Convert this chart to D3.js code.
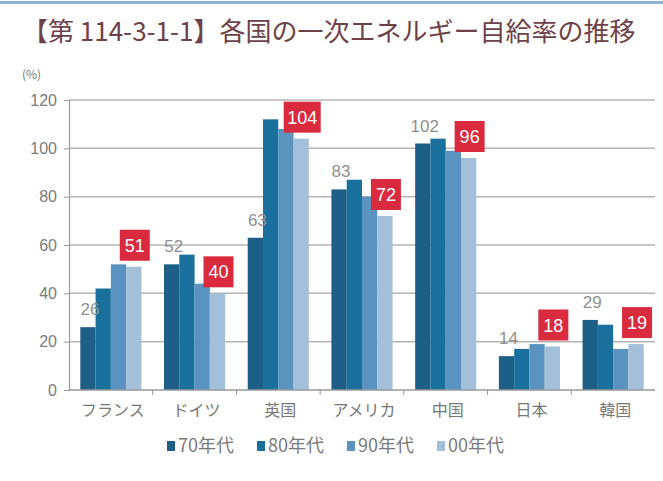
<!DOCTYPE html>
<html>
<head>
<meta charset="utf-8">
<script src="https://cdn.jsdelivr.net/npm/d3@7/dist/d3.min.js"></script>
<style>
  html, body { margin: 0; padding: 0; background: #fff; }
  svg { display: block; font-family: "Noto Sans CJK JP", "Noto Sans", sans-serif; }
</style>
</head>
<body>
<svg id="chart" width="663" height="481"></svg>
<script>
// 各国の一次エネルギー自給率（%）
const countries = ["フランス", "ドイツ", "英国", "アメリカ", "中国", "日本", "韓国"];
const decades = ["70年代", "80年代", "90年代", "00年代"];
const values70s = [26, 52, 63, 83, 102, 14, 29];
const values80s = [42, 56, 112, 87, 104, 17, 27];
const values90s = [52, 44, 108, 80, 99, 19, 17];
const values00s = [51, 40, 104, 72, 96, 18, 19];
const yTicks = [0, 20, 40, 60, 80, 100, 120];

const colors = ["#1d5f86", "#1a709d", "#5a93bf", "#a3bfd9"];
const seriesValues = [values70s, values80s, values90s, values00s];

const svg = d3.select("#chart");
const margin = { left: 69, right: 8, top: 100, bottom: 91 };
const W = 663, H = 481;
const plotRight = 655;

// top rule
svg.append("rect").attr("x", 0).attr("y", 1).attr("width", W).attr("height", 3)
  .attr("fill", "#8fb3d6");

// title
svg.append("text")
  .attr("x", 22).attr("y", 41)
  .attr("font-size", 26)
  .attr("fill", "#6e4148")
  .text("【第 114-3-1-1】各国の一次エネルギー自給率の推移");

svg.append("text")
  .attr("x", 22).attr("y", 79)
  .attr("font-size", 12)
  .attr("fill", "#777")
  .text("(%)");

const x0 = d3.scaleBand().domain(countries)
  .range([margin.left, plotRight]).paddingInner(0.27).paddingOuter(0.135);
const x1 = d3.scaleBand().domain(decades).range([0, x0.bandwidth()]);
const y = d3.scaleLinear().domain([0, 120]).range([390, 100]);

// gridlines
svg.append("g").selectAll("line").data(yTicks.filter(d => d > 0)).join("line")
  .attr("x1", margin.left).attr("x2", plotRight)
  .attr("y1", d => y(d)).attr("y2", d => y(d))
  .attr("stroke", "#b4b4b4").attr("stroke-width", 1.5);

// y axis
const yAxis = svg.append("g")
  .attr("transform", `translate(${margin.left},0)`)
  .call(d3.axisLeft(y).tickValues(yTicks).tickSize(5).tickPadding(7));
yAxis.select(".domain").attr("stroke", "#999").attr("stroke-width", 1.2);
yAxis.selectAll(".tick line").attr("stroke", "#999");
yAxis.selectAll("text").attr("font-size", 16).attr("fill", "#7a7a7a")
  .attr("font-family", "Liberation Sans, Arial, sans-serif");

// bars
const groups = svg.append("g").selectAll("g").data(countries).join("g")
  .attr("transform", d => `translate(${x0(d)},0)`);
groups.selectAll("rect")
  .data((c, i) => decades.map((dec, k) => ({ dec, k, v: seriesValues[k][i] })))
  .join("rect")
  .attr("x", d => x1(d.dec))
  .attr("width", x1.bandwidth())
  .attr("y", d => y(d.v))
  .attr("height", d => y(0) - y(d.v))
  .attr("fill", d => colors[d.k]);

// x axis baseline and category ticks
const step = x0.step();
const xAxis = svg.append("g").attr("transform", `translate(0,${y(0)})`);
xAxis.append("line").attr("x1", margin.left).attr("x2", plotRight)
  .attr("stroke", "#999").attr("stroke-width", 1.5);
xAxis.selectAll("line.tk").data(d3.range(1, countries.length)).join("line")
  .attr("class", "tk")
  .attr("x1", i => margin.left + i * step).attr("x2", i => margin.left + i * step)
  .attr("y1", 0).attr("y2", 5).attr("stroke", "#999");
xAxis.selectAll("text").data(countries).join("text")
  .attr("x", d => x0(d) + x0.bandwidth() / 2 + 2)
  .attr("y", 26)
  .attr("text-anchor", "middle")
  .attr("font-size", 16)
  .attr("fill", "#777")
  .text(d => d);

// 70年代 value labels
svg.append("g").selectAll("text").data(countries).join("text")
  .attr("x", (c) => x0(c) + x1("70年代") + x1.bandwidth() / 2 + 2)
  .attr("y", (c, i) => y(values70s[i]) - 12)
  .attr("text-anchor", "middle")
  .attr("font-size", 17)
  .attr("font-family", "Liberation Sans, Arial, sans-serif")
  .attr("fill", "#8f8f8f")
  .text((c, i) => values70s[i]);

// 00年代 value labels in red boxes
const boxes = svg.append("g").selectAll("g").data(countries).join("g")
  .attr("transform", (c, i) => {
    const cx = x0(c) + x1("00年代") + x1.bandwidth() / 2 + 1;
    const top = y(values00s[i]) - 6 - 31;
    return `translate(${cx},${top})`;
  });
boxes.append("rect")
  .attr("x", (c, i) => String(values00s[i]).length > 2 ? -18.5 : -15)
  .attr("width", (c, i) => String(values00s[i]).length > 2 ? 37 : 30)
  .attr("height", 31)
  .attr("fill", "#d92a3e");
boxes.append("text")
  .attr("y", 22)
  .attr("text-anchor", "middle")
  .attr("font-size", 18)
  .attr("font-family", "Liberation Sans, Arial, sans-serif")
  .attr("fill", "#fff")
  .text((c, i) => values00s[i]);

// legend
const legendX = [167, 257, 347, 437];
const legend = svg.append("g").selectAll("g").data(decades).join("g")
  .attr("transform", (d, i) => `translate(${legendX[i]},441)`);
legend.append("rect").attr("width", 8).attr("height", 10)
  .attr("fill", (d, i) => colors[i]);
legend.append("text").attr("x", 11).attr("y", 11)
  .attr("font-size", 18).attr("fill", "#7a7a7a")
  .text(d => d);
</script>
</body>
</html>
